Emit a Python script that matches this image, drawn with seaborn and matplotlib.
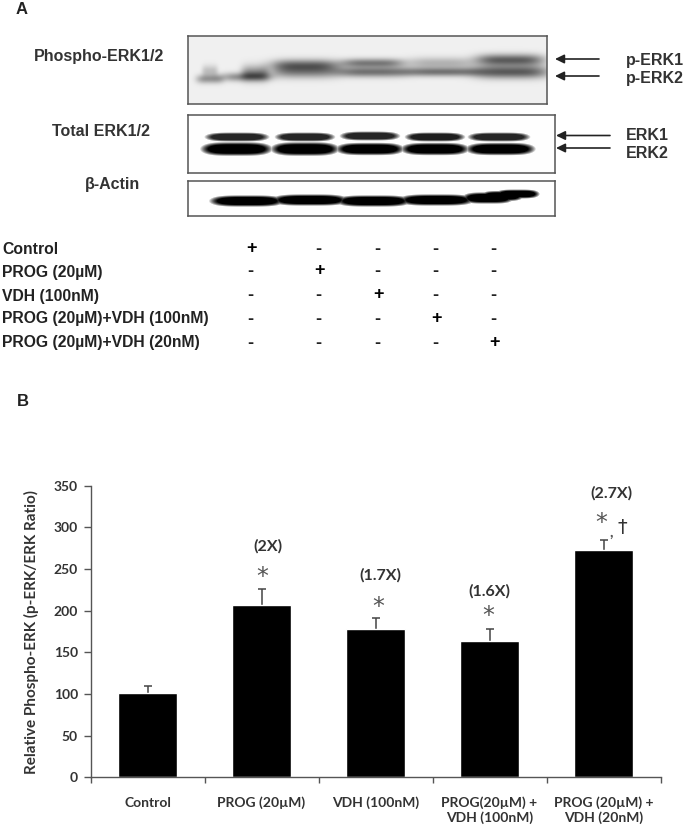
import numpy as np
import pandas as pd
import matplotlib
matplotlib.use("Agg")
import matplotlib.pyplot as plt
import seaborn as sns

W, H = 685, 831

# bar chart values
groups = ["Control", "PROG (20µM)", "VDH (100nM)", "PROG(20µM) +\nVDH (100nM)", "PROG (20µM) +\nVDH (20nM)"]
ratio = [100.8, 206.8, 178, 163.6, 272.8]
ratio_err = [8.8, 19.2, 13.6, 14.8, 12.2]
y_ticks = [0, 50, 100, 150, 200, 250, 300, 350]

# fold change labels above the bars
fold_labels = ["(2X)", "(1.7X)", "(1.6X)", "(2.7X)"]
fold_x = [268, 380, 489, 611]
fold_y = [546, 575, 591, 493]
star_x = [262, 378, 488, 601]
star_y = [577, 607, 616, 523]

# treatment table
treatments = ["Control", "PROG (20µM)", "VDH (100nM)", "PROG (20µM)+VDH (100nM)", "PROG (20µM)+VDH (20nM)"]
treat_y = [249, 272, 296, 319, 343]
lane_x = [250, 318, 377, 435, 493]

# blot bands: x start, x end, y centre, half height, darkness (picture pixels)
phospho_bands = [
    (198, 222, 79, 3.5, 0.36), (203, 217, 71, 4.5, 0.2), (225, 269, 77, 3.5, 0.4), (243, 267, 73, 6, 0.4),
    (275, 335, 65, 4.5, 0.5), (275, 335, 72, 5, 0.42),
    (345, 400, 63, 3.5, 0.48), (341, 404, 72, 4, 0.52),
    (411, 470, 63, 4.5, 0.25), (408, 475, 72, 3.5, 0.5),
    (480, 540, 60, 4.5, 0.6), (478, 544, 72, 5, 0.62),
]
total_bands = [
    (207, 267, 137, 4, 0.85), (277, 333, 137, 4, 0.85), (342, 398, 136, 4, 0.85), (407, 463, 137, 4, 0.88), (470, 528, 137, 4, 0.85),
    (203, 270, 149, 6, 1.0), (273, 337, 149, 6, 1.0), (338, 402, 149, 5.5, 1.0), (403, 467, 149, 5.5, 1.0), (468, 533, 149, 5.5, 1.0),
]
actin_bands = [
    (212, 282, 201, 5, 1.0), (274, 346, 200, 5, 1.0), (338, 409, 201, 5, 1.0), (401, 472, 200, 5, 1.0),
    (464, 512, 198, 5, 1.0), (482, 522, 196, 4.5, 1.0), (497, 538, 194, 4, 1.0),
]

# blot boxes: left, right, top, bottom, background level
phospho_box = (188, 547, 36, 104, 0.94)
total_box = (188, 555, 115, 173, 0.995)
actin_box = (188, 555, 181, 216, 1.0)

# blot text and arrows
blot_names = ["Phospho-ERK1/2", "Total ERK1/2", "β-Actin"]
blot_name_x = [34, 52, 85]
blot_name_y = [56, 132, 184]
arrow_names = ["p-ERK1", "p-ERK2", "ERK1", "ERK2"]
arrow_y = [59, 76, 135.5, 148]
arrow_tail = [599, 599, 610, 610]
arrow_head = [555, 555, 556, 556]
arrow_text_y = [60, 79, 135, 153]


def add_axes_px(fig, left, right, top, bottom):
    return fig.add_axes([left / W, 1 - bottom / H, (right - left) / W, (bottom - top) / H])


def draw_blot(fig, box, bands, hard):
    left, right, top, bottom, back = box
    xs, ys = np.meshgrid(np.arange(left, right) + 0.5, np.arange(top, bottom) + 0.5)
    dark = np.zeros(xs.shape)
    for x0, x1, yc, hh, level in bands:
        xc, hw = (x0 + x1) / 2, (x1 - x0) / 2
        r = np.abs((xs - xc) / hw) ** 4 + ((ys - yc) / hh) ** 2
        if hard:
            dark = np.maximum(dark, level * np.clip((1.45 - r) / 0.95, 0, 1))
        else:
            dark = dark + level * np.exp(-0.6 * r)
    dark = np.clip(dark, 0, 1)
    ax = add_axes_px(fig, left, right, top, bottom)
    sns.heatmap(back * (1 - dark), vmin=0, vmax=1, cmap="gray", cbar=False,
                xticklabels=False, yticklabels=False, ax=ax)
    for s in ax.spines.values():
        s.set_visible(True)
        s.set_color("#555555")
        s.set_linewidth(1.1)
    return ax


sns.set_theme(style="white")
plt.rcParams["font.family"] = ["Liberation Sans", "DejaVu Sans"]

fig = plt.figure(figsize=(W / 100, H / 100), dpi=100, facecolor="white")

draw_blot(fig, phospho_box, phospho_bands, False)
draw_blot(fig, total_box, total_bands, True)
draw_blot(fig, actin_box, actin_bands, True)

# panel B
ax = add_axes_px(fig, 90.5, 660.5, 485.7, 777.3)
df = pd.DataFrame({"group": groups, "ratio": ratio})
sns.barplot(data=df, x="group", y="ratio", color="black", saturation=1, width=0.51, ax=ax, zorder=2)
# lower whisker stays hidden behind the bar, only the upper one shows
ax.errorbar(range(len(groups)), ratio, yerr=[[5] * len(groups), ratio_err], fmt="none",
            ecolor="#444444", elinewidth=1.1, capsize=2.6, capthick=1.1, zorder=1)
ax.set_xlim(-0.5, 4.5)
ax.set_ylim(0, 350)
ax.set_xlabel("")
ax.set_ylabel("")
ax.set_yticks(y_ticks)
ax.set_xticks(np.arange(-0.5, 5, 1))
ax.set_xticklabels([])
ax.set_xticks(range(len(groups)), minor=True)
ax.set_xticklabels(groups, minor=True, family="Lato", fontweight="bold", fontsize=10, color="#333333", linespacing=1.2)
ax.tick_params(axis="x", which="major", length=4, width=1, color="#555555", bottom=True)
ax.tick_params(axis="x", which="minor", length=0, pad=14, bottom=False)
ax.tick_params(axis="y", length=5, width=1, color="#555555", left=True, pad=4)
for lab in ax.get_yticklabels():
    lab.set_family("Lato")
    lab.set_fontweight("bold")
    lab.set_fontsize(10)
    lab.set_color("#333333")
sns.despine(ax=ax)
for side in ["left", "bottom"]:
    ax.spines[side].set_color("#555555")
    ax.spines[side].set_linewidth(1)

# overlay in picture pixels for labels and arrows
ov = fig.add_axes([0, 0, 1, 1], facecolor="none")
ov.set_xlim(0, W)
ov.set_ylim(H, 0)
ov.axis("off")

ov.text(16, 9, "A", fontsize=12, fontweight="bold", va="center", color="#222222")
ov.text(17, 401, "B", fontsize=12, fontweight="bold", va="center", color="#222222")

for name, x, y in zip(blot_names, blot_name_x, blot_name_y):
    ov.text(x, y, name, fontsize=11.5, fontweight="bold", va="center", color="#333333")

for name, y, tail, head, ty in zip(arrow_names, arrow_y, arrow_tail, arrow_head, arrow_text_y):
    ov.annotate("", xy=(head, y), xytext=(tail, y),
                arrowprops=dict(arrowstyle="-|>,head_length=0.45,head_width=0.22", color="#222222", lw=1.2,
                                shrinkA=0, shrinkB=0))
    ov.text(626, ty, name, fontsize=11.5, fontweight="bold", va="center", color="#333333")

# treatment table
for i, (name, y) in enumerate(zip(treatments, treat_y)):
    ov.text(2, y, name, fontsize=11.3, fontweight="bold", va="center", color="#222222")
    for j, x in enumerate(lane_x):
        if i == j:
            ov.text(x + 2, y - 1, "+", fontsize=13, fontweight="bold", ha="center", va="center", color="black")
        else:
            ov.text(x, y, "-", fontsize=13, fontweight="bold", ha="center", va="center", color="#222222")

# significance marks and fold change
for x, y in zip(star_x, star_y):
    ov.text(x, y, "*", fontsize=17, family="DejaVu Sans", ha="center", va="center", color="#555555")
for lab, x, y in zip(fold_labels, fold_x, fold_y):
    ov.text(x, y, lab, fontsize=11.5, family="Lato", fontweight="bold", ha="center", va="center", color="#333333")
ov.text(611, 533, ",", fontsize=11, family="Lato", fontweight="bold", ha="center", va="center", color="#555555")
ov.text(622, 527, "†", fontsize=14, family="DejaVu Sans", ha="center", va="center", color="#333333")

ov.text(31.5, 631.5, "Relative Phospho-ERK (p-ERK/ERK Ratio)", rotation=90, family="Lato", fontweight="bold",
        fontsize=11, ha="center", va="center", color="#333333")

fig.savefig("out.png", dpi=100)
